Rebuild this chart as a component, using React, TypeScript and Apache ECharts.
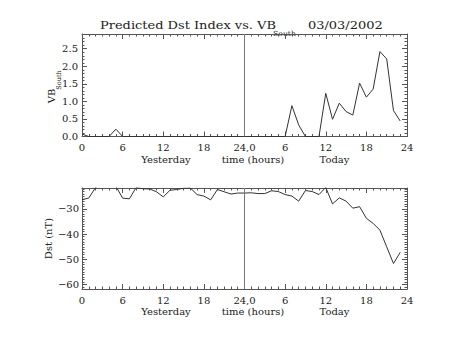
import React, { useEffect, useRef } from "react";
import * as echarts from "echarts";

const hours = [
  0, 1, 2, 3, 4, 5, 6, 7, 8, 9, 10, 11, 12, 13, 14, 15, 16, 17, 18, 19, 20, 21, 22, 23,
  24, 25, 26, 27, 28, 29, 30, 31, 32, 33, 34, 35, 36, 37, 38, 39, 40, 41, 42, 43, 44, 45, 46, 47,
];

const vbSouth = [
  0.07, 0, 0, 0, 0, 0.21, 0, 0, 0, 0, 0, 0, 0, 0, 0, 0, 0, 0, 0, 0, 0, 0, 0, 0,
  0, 0, 0, 0, 0, 0, 0, 0.88, 0.33, 0, 0, 0, 1.23, 0.49, 0.95, 0.71, 0.61, 1.52, 1.12, 1.35, 2.42, 2.21, 0.74, 0.44,
];

const dst = [
  -26.3, -25.7, -21.5, -20, -20, -21, -25.7, -26.0, -21.5, -22.0, -22.1, -23.2, -25.2, -22.6, -22.3, -21.8, -21.7, -24.3, -24.9, -26.4, -22.3, -23.2, -24.1, -23.7,
  -23.7, -23.6, -23.9, -23.9, -22.8, -23.1, -24.3, -24.9, -26.9, -22.7, -23.1, -24.3, -21.5, -28.0, -25.6, -26.9, -29.7, -29.1, -33.7, -35.7, -38.4, -45.0, -51.6, -47.2,
];

const vbTicks = [0, 0.5, 1, 1.5, 2, 2.5];
const dstTicks = [-60, -50, -40, -30];
const dstMinorTicks = [
  -61, -60, -59, -58, -57, -56, -55, -54, -53, -52, -51, -50, -49, -48, -47, -46, -45, -44, -43, -42,
  -41, -40, -39, -38, -37, -36, -35, -34, -33, -32, -31, -30, -29, -28, -27, -26, -25, -24, -23, -22,
];

const titleMain = "Predicted Dst Index vs. VB";
const titleSub = "South";
const titleDate = "03/03/2002";
const xTitleParts = ["Yesterday", "time (hours)", "Today"];

const FONT = "DejaVu Serif";
const AX = "#555";
const TXT = "#222";

function xLabel(v: number): string {
  if (v === 24) return "24,0";
  if (v === 0) return "0";
  const r = v % 24;
  return String(r === 0 ? 24 : r);
}

export default function App() {
  const ref = useRef<HTMLDivElement>(null);
  useEffect(() => {
    if (!ref.current) return;
    const chart = echarts.init(ref.current, undefined, { renderer: "svg" });

    const grids = [
      { left: 82, top: 34, width: 325, height: 102.5 },
      { left: 82, top: 188, width: 325, height: 101 },
    ];

    const xAxisBase = (gridIndex: number, position: string, labels: boolean) => ({
      type: "value",
      gridIndex,
      position,
      min: 0,
      max: 48,
      interval: 6,
      axisLine: { show: true, onZero: false, lineStyle: { color: AX, width: 1 } },
      axisTick: { show: true, inside: true, length: 5, lineStyle: { color: AX } },
      minorTick: { show: true, splitNumber: 6, length: 2.5, lineStyle: { color: AX } },
      axisLabel: {
        show: labels,
        formatter: xLabel,
        margin: 6,
        fontFamily: FONT,
        fontSize: 10,
        color: TXT,
      },
      splitLine: { show: false },
    });

    const yTop = (position: string, labels: boolean) => ({
      type: "value",
      gridIndex: 0,
      position,
      min: 0,
      max: 2.92,
      interval: 0.5,
      axisLine: { show: true, onZero: false, lineStyle: { color: AX, width: 1 } },
      axisTick: { show: true, inside: true, length: 5, lineStyle: { color: AX } },
      minorTick: { show: true, splitNumber: 5, length: 2.5, lineStyle: { color: AX } },
      axisLabel: {
        show: labels,
        showMaxLabel: false,
        formatter: (v: number) => v.toFixed(1),
        margin: 4,
        fontFamily: FONT,
        fontSize: 10,
        color: TXT,
      },
      splitLine: { show: false },
    });

    const yBottomMajor = (position: string, labels: boolean) => ({
      type: "value",
      gridIndex: 1,
      position,
      min: -61.7,
      max: -21.7,
      axisLine: { show: true, onZero: false, lineStyle: { color: AX, width: 1 } },
      axisTick: { show: true, inside: true, length: 5, customValues: dstTicks, lineStyle: { color: AX } },
      axisLabel: {
        show: labels,
        customValues: dstTicks,
        formatter: (v: number) => String(v).replace("-", "\u2212"),
        margin: 3,
        fontFamily: FONT,
        fontSize: 10,
        color: TXT,
      },
      splitLine: { show: false },
    });

    const yBottomMinor = (position: string) => ({
      type: "value",
      gridIndex: 1,
      position,
      min: -61.7,
      max: -21.7,
      axisLine: { show: false, onZero: false },
      axisTick: { show: true, inside: true, length: 2.5, customValues: dstMinorTicks, lineStyle: { color: AX } },
      axisLabel: { show: false },
      splitLine: { show: false },
    });

    const vLine = {
      silent: true,
      symbol: "none",
      label: { show: false },
      lineStyle: { color: "#777", type: "solid", width: 1 },
      data: [{ xAxis: 24 }],
    };

    const txt = (
      text: string,
      x: number,
      y: number,
      size: number,
      align: string,
      extra: any = {}
    ) => ({
      type: "text",
      x,
      y,
      silent: true,
      style: {
        text,
        fontFamily: FONT,
        fontSize: size,
        fill: TXT,
        align,
        verticalAlign: "middle",
      },
      ...extra,
    });

    const option: any = {
      animation: false,
      textStyle: { fontFamily: FONT },
      grid: grids,
      xAxis: [
        xAxisBase(0, "bottom", true),
        xAxisBase(0, "top", false),
        xAxisBase(1, "bottom", true),
        xAxisBase(1, "top", false),
      ],
      yAxis: [
        yTop("left", true),
        yTop("right", false),
        yBottomMajor("left", true),
        yBottomMajor("right", false),
        yBottomMinor("left"),
        yBottomMinor("right"),
      ],
      series: [
        {
          type: "line",
          xAxisIndex: 0,
          yAxisIndex: 0,
          data: hours.map((h, i) => [h, vbSouth[i]]),
          symbol: "none",
          lineStyle: { color: "#333", width: 1 },
          markLine: vLine,
        },
        {
          type: "line",
          xAxisIndex: 2,
          yAxisIndex: 2,
          data: hours.map((h, i) => [h, dst[i]]),
          symbol: "none",
          clip: true,
          lineStyle: { color: "#333", width: 1 },
          markLine: vLine,
        },
      ],
      graphic: [
        txt(titleMain, 100, 25, 11, "left", { scaleX: 1.18 }),
        txt(titleSub, 273, 34, 7, "left", { scaleX: 1.1 }),
        txt(titleDate, 308, 25, 11, "left", { scaleX: 1.18 }),
        txt("VB", 51.5, 96, 10, "center", { rotation: Math.PI / 2 }),
        txt("South", 58.5, 80, 6.5, "center", { rotation: Math.PI / 2 }),
        txt("Dst (nT)", 48, 238.5, 10, "center", { rotation: Math.PI / 2 }),
        txt(xTitleParts[0], 166, 159, 10, "center"),
        txt(xTitleParts[1], 253, 159, 10, "center"),
        txt(xTitleParts[2], 334.5, 159, 10, "center"),
        txt(xTitleParts[0], 166, 311, 10, "center"),
        txt(xTitleParts[1], 253, 311, 10, "center"),
        txt(xTitleParts[2], 334.5, 311, 10, "center"),
      ],
    };

    chart.setOption(option);
    return () => chart.dispose();
  }, []);

  return (
    <div
      ref={ref}
      style={{ position: "fixed", left: 0, top: 0, width: 454, height: 341, background: "#fff" }}
    />
  );
}
